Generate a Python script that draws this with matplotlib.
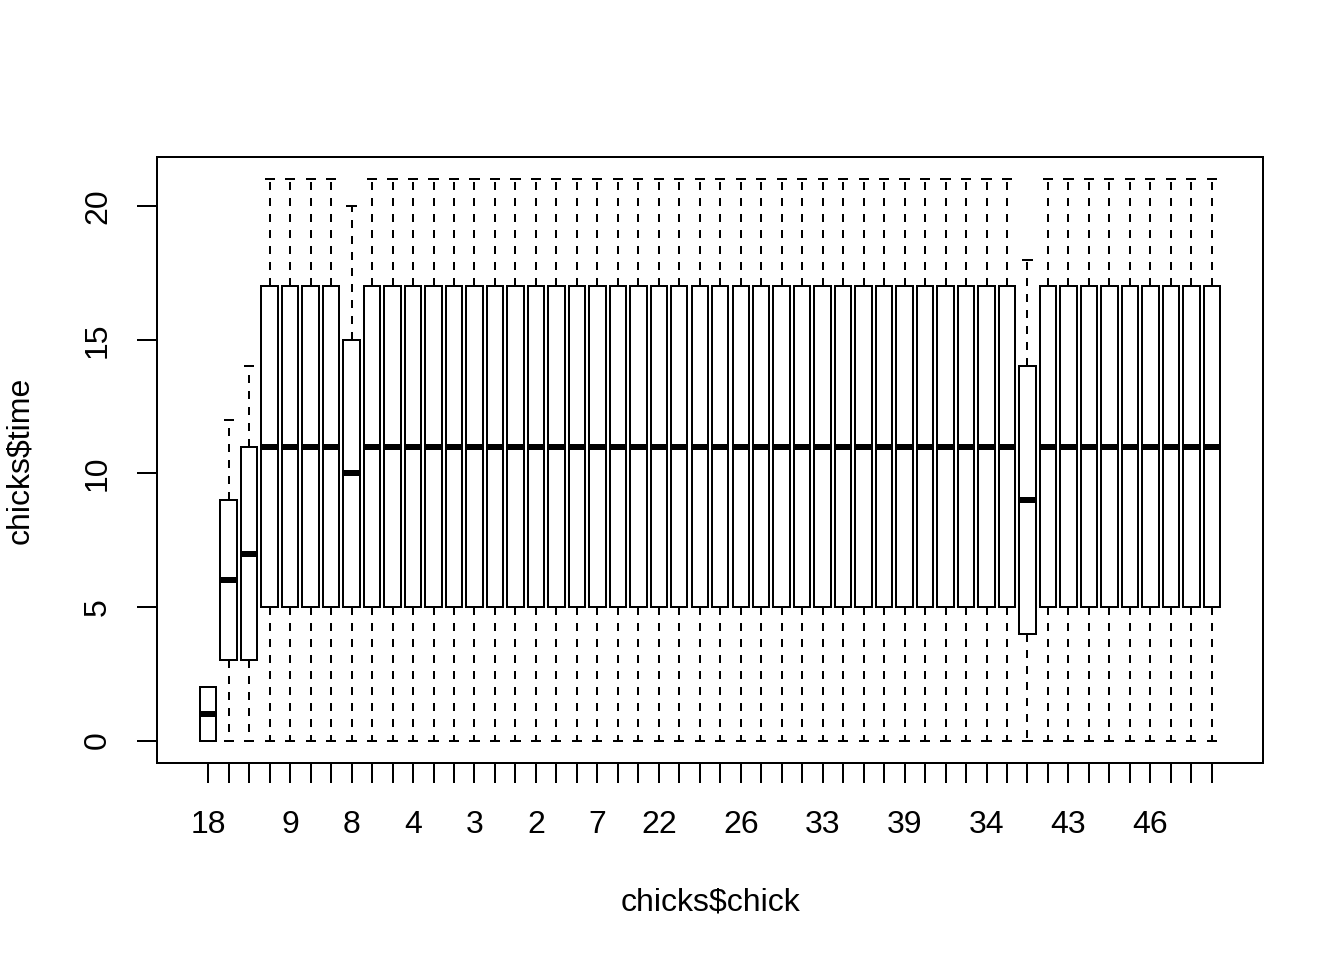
import matplotlib
matplotlib.use("Agg")
import matplotlib.pyplot as plt

plt.rcParams['font.family'] = ['Liberation Sans', 'DejaVu Sans']

# Chick factor levels (ordered, as in ChickWeight)
chicks = ["18", "16", "15", "13", "9", "20", "10", "8", "17", "19",
          "4", "6", "11", "3", "1", "12", "2", "5", "14", "7",
          "24", "30", "22", "23", "27", "28", "26", "25", "29", "21",
          "33", "37", "36", "31", "39", "38", "32", "40", "34", "35",
          "44", "45", "43", "41", "47", "49", "46", "50", "42", "48"]
# labels that R could draw without overlap
shown_labels = ["18", "9", "8", "4", "3", "2", "7", "22", "26", "33",
                "39", "34", "43", "46"]

# box statistics for time, per chick
whis_lo = [0] * 50
q1      = [0, 3, 3, 5, 5, 5, 5, 5, 5, 5,
           5, 5, 5, 5, 5, 5, 5, 5, 5, 5,
           5, 5, 5, 5, 5, 5, 5, 5, 5, 5,
           5, 5, 5, 5, 5, 5, 5, 5, 5, 5,
           4, 5, 5, 5, 5, 5, 5, 5, 5, 5]
med     = [1, 6, 7, 11, 11, 11, 11, 10, 11, 11,
           11, 11, 11, 11, 11, 11, 11, 11, 11, 11,
           11, 11, 11, 11, 11, 11, 11, 11, 11, 11,
           11, 11, 11, 11, 11, 11, 11, 11, 11, 11,
           9, 11, 11, 11, 11, 11, 11, 11, 11, 11]
q3      = [2, 9, 11, 17, 17, 17, 17, 15, 17, 17,
           17, 17, 17, 17, 17, 17, 17, 17, 17, 17,
           17, 17, 17, 17, 17, 17, 17, 17, 17, 17,
           17, 17, 17, 17, 17, 17, 17, 17, 17, 17,
           14, 17, 17, 17, 17, 17, 17, 17, 17, 17]
whis_hi = [2, 12, 14, 21, 21, 21, 21, 20, 21, 21,
           21, 21, 21, 21, 21, 21, 21, 21, 21, 21,
           21, 21, 21, 21, 21, 21, 21, 21, 21, 21,
           21, 21, 21, 21, 21, 21, 21, 21, 21, 21,
           18, 21, 21, 21, 21, 21, 21, 21, 21, 21]

stats = [dict(whislo=a, q1=b, med=c, q3=d, whishi=e, fliers=[])
         for a, b, c, d, e in zip(whis_lo, q1, med, q3, whis_hi)]

fig = plt.figure(figsize=(7, 5), dpi=192)
ax = fig.add_axes([157/1344, 1 - 763/960, (1263 - 157)/1344, (763 - 157)/960])

positions = list(range(1, len(chicks) + 1))
ax.bxp(stats, positions=positions, widths=0.8, patch_artist=True,
       boxprops=dict(facecolor='white', edgecolor='black', linewidth=0.75),
       medianprops=dict(color='black', linewidth=2.25, solid_capstyle='butt'),
       whiskerprops=dict(color='black', linewidth=0.75, linestyle=(0, (4, 4))),
       capprops=dict(color='black', linewidth=0.75),
       capwidths=0.4)

n = len(chicks)
ax.set_xlim(0.5 - 0.04 * n, n + 0.5 + 0.04 * n)
ax.set_ylim(-0.84, 21.84)

ax.set_xticks(positions)
ax.set_xticklabels([c if c in shown_labels else "" for c in chicks])
ax.set_yticks([0, 5, 10, 15, 20])
ax.set_yticklabels(["0", "5", "10", "15", "20"], rotation=90, va='center')

ax.tick_params(axis='x', length=7.5, width=0.75, labelsize=12, pad=10)
ax.tick_params(axis='y', length=7.5, width=0.75, labelsize=12, pad=9)
for s in ax.spines.values():
    s.set_linewidth(0.75)

ax.set_xlabel("chicks$chick", fontsize=12, labelpad=18)
ax.set_ylabel("chicks$time", fontsize=12, labelpad=18)

fig.savefig("out.png", dpi=192)
